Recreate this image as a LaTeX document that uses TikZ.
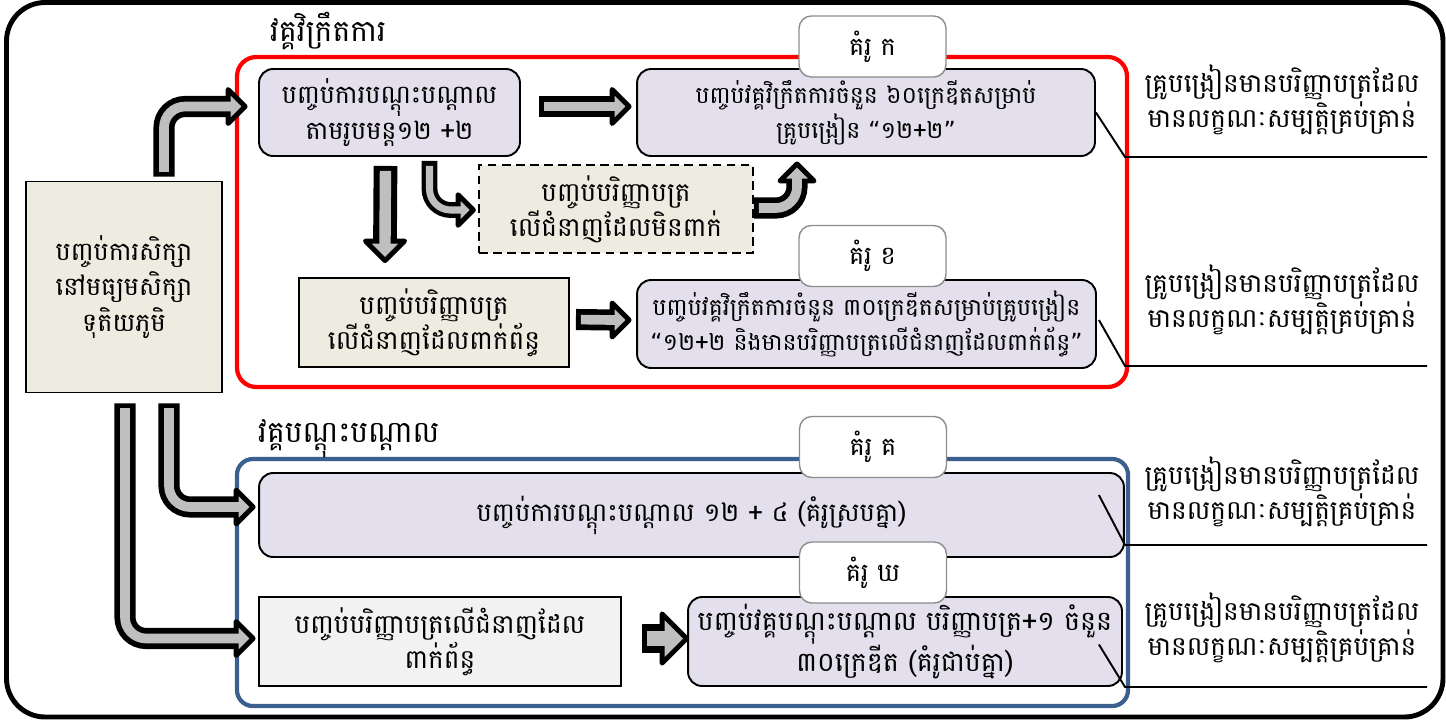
\documentclass[tikz,border=0pt]{standalone}
\usepackage{fontspec}
\setmainfont{Battambang}[Script=Khmer]
\newfontfamily\quotefont{DejaVu Sans}
\usetikzlibrary{calc}
\definecolor{lav}{HTML}{E4DFEC}
\definecolor{beige}{HTML}{EEECE1}
\definecolor{pale}{HTML}{F2F2F2}
\definecolor{framered}{HTML}{FF0000}
\definecolor{frameblue}{HTML}{3B5F8E}
\definecolor{arrowgray}{HTML}{BFBFBF}
\definecolor{taggray}{HTML}{8C8C8C}
\newcommand{\fs}[1]{\fontsize{#1}{20}\selectfont}
\newcommand{\qopen}{{\quotefont “}}
\newcommand{\qclose}{{\quotefont ”}}
\newcommand{\barrow}[4]{%
  \draw[shaftout=#1] #3;
  \pic[#4] {bhead};
  \draw[shaftin=#2] #3;
}
\begin{document}
\begin{tikzpicture}[x=0.02cm,y=-0.02cm,
    box/.style={draw,line width=1.1pt,align=center,inner sep=0pt,font=\fs{14.5}},
    roundbox/.style={box,rounded corners=8pt,fill=lav},
    plainbox/.style={box,fill=beige},
    tag/.style={draw=taggray,line width=0.8pt,fill=white,rounded corners=7pt,
      minimum width=2.94cm,minimum height=1.22cm,font=\fs{14.5}},
    note/.style={align=center,font=\fs{15}},
    heading/.style={anchor=west,font=\fs{17}},
    shaftout/.style={line width=#1,draw=black,rounded corners=12pt},
    shaftin/.style={line width=#1,draw=arrowgray,rounded corners=12pt,
      shorten <=2.8pt,shorten >=-3pt},
    bhead/.pic={\draw[line width=2.8pt,line join=round,fill=arrowgray]
      (0,-17) -- (17,0) -- (0,17) -- cycle;}]
  \useasboundingbox (0,0) rectangle (1446,720);
  \draw[line width=2.8pt,rounded corners=22pt] (6.5,2.5) rectangle (1443,717);

  % frames
  \draw[framered,line width=2.4pt,rounded corners=11pt] (237,57) rectangle (1127,387);
  \draw[frameblue,line width=2.4pt,rounded corners=9pt] (237,459) rectangle (1128,706);
  \node[heading] (t1) at (264,31) {វគ្គវិក្រឹតការ};
  \node[heading] (t2) at (252,439) {វគ្គបណ្ដុះបណ្ដាល};

  % boxes
  \node[plainbox,line width=0.9pt,minimum width=3.92cm,minimum height=4.22cm] (start) at (124,287)
    {បញ្ចប់ការសិក្សា\\នៅមធ្យមសិក្សា\\ទុតិយភូមិ};
  \node[roundbox,minimum width=5.22cm,minimum height=1.74cm] (A1) at (389.5,112.5)
    {បញ្ចប់ការបណ្ដុះបណ្ដាល\\តាមរូបមន្ត១២ +២};
  \node[roundbox,font=\fs{13.4},minimum width=9.16cm,minimum height=1.74cm] (A2) at (866,112.5)
    {បញ្ចប់វគ្គវិក្រឹតការចំនួន ៦០ក្រេឌីតសម្រាប់\\គ្រូបង្រៀន \qopen១២+២\qclose};
  \node[plainbox,dash pattern=on 5pt off 3pt,font=\fs{15},minimum width=5.48cm,minimum height=1.76cm] (dash) at (616,209)
    {បញ្ចប់បរិញ្ញាបត្រ\\លើជំនាញដែលមិនពាក់};
  \node[plainbox,font=\fs{15},minimum width=5.40cm,minimum height=1.78cm] (B1) at (434,322.5)
    {បញ្ចប់បរិញ្ញាបត្រ\\លើជំនាញដែលពាក់ព័ន្ធ};
  \node[roundbox,font=\fs{13.4},minimum width=9.18cm,minimum height=1.76cm] (B2) at (866.5,324)
    {បញ្ចប់វគ្គវិក្រឹតការចំនួន ៣០ក្រេឌីតសម្រាប់គ្រូបង្រៀន\\\qopen១២+២ និងមានបរិញ្ញាបត្រលើជំនាញដែលពាក់ព័ន្ធ\qclose};
  \node[roundbox,font=\fs{14.7},minimum width=17.30cm,minimum height=1.68cm] (C) at (691.5,515)
    {បញ្ចប់ការបណ្ដុះបណ្ដាល ១២ + ៤ (គំរូស្របគ្នា)};
  \node[box,fill=pale,font=\fs{15},minimum width=7.24cm,minimum height=1.78cm] (D1) at (440,641.5)
    {បញ្ចប់បរិញ្ញាបត្រលើជំនាញដែល\\ពាក់ព័ន្ធ};
  \node[roundbox,font=\fs{15.3},minimum width=8.68cm,minimum height=1.78cm] (D2) at (905,641.5)
    {បញ្ចប់វគ្គបណ្ដុះបណ្ដាល បរិញ្ញាបត្រ+១ ចំនួន\\៣០ក្រេឌីត (គំរូជាប់គ្នា)};

  \node[tag] (kA) at (872.5,46.5) {គំរូ ក};
  \node[tag] (kB) at (872.5,256) {គំរូ ខ};
  \node[tag] (kC) at (873,447) {គំរូ គ};
  \node[tag] (kD) at (873,572.5) {គំរូ ឃ};

  % results on the right
  \node[note] (r1) at (1282,100) {គ្រូបង្រៀនមានបរិញ្ញាបត្រដែល\\មានលក្ខណៈសម្បត្តិគ្រប់គ្រាន់};
  \node[note] (r2) at (1282,300) {គ្រូបង្រៀនមានបរិញ្ញាបត្រដែល\\មានលក្ខណៈសម្បត្តិគ្រប់គ្រាន់};
  \node[note] (r3) at (1282,492) {គ្រូបង្រៀនមានបរិញ្ញាបត្រដែល\\មានលក្ខណៈសម្បត្តិគ្រប់គ្រាន់};
  \node[note] (r4) at (1282,628) {គ្រូបង្រៀនមានបរិញ្ញាបត្រដែល\\មានលក្ខណៈសម្បត្តិគ្រប់គ្រាន់};
  \coordinate (u1) at (1125,157);
  \coordinate (u2) at (1125,366);
  \coordinate (u3) at (1125,545);
  \coordinate (u4) at (1125,687);
  \begin{scope}[line width=1.1pt]
    \draw (A2.east) -- (u1) -- (u1 -| 1427,0);
    \draw ($(B2.east)+(2,-4)$) -- (u2) -- (u2 -| 1427,0);
    \draw ($(C.east)+(-26,-20)$) -- (u3) -- (u3 -| 1427,0);
    \draw ($(D2.east)+(-24,3)$) -- (u4) -- (u4 -| 1427,0);
  \end{scope}

  % block arrows
  \barrow{12pt}{5.5pt}{($(start.north)+(40,-4)$) |- ($(A1.west)+(-30,-6)$)}
    {shift={($(A1.west)+(-30,-6)$)}}
  \barrow{12pt}{5.5pt}{($(A1.east)+(18,-6)$) -- ($(A2.west)+(-24,-6)$)}
    {shift={($(A2.west)+(-24,-6)$)}}
  \barrow{13.5pt}{6.5pt}{($(A1.south)+(-4,9)$) -- ($(B1.north)+(-49,-36)$)}
    {shift={($(B1.north)+(-49,-36)$)},rotate=-90,scale=1.15}
  \barrow{9pt}{4pt}{($(A1.south)+(40,4)$) |- ($(dash.west)+(-20,1)$)}
    {shift={($(dash.west)+(-20,1)$)},scale=0.9}
  \barrow{12pt}{5.5pt}{($(dash.east)+(0,-1)$) -| ($(A2.south)+(-69,24)$)}
    {shift={($(A2.south)+(-69,24)$)},rotate=90}
  \barrow{12pt}{5.5pt}{($(B1.east)+(6,-3)$) -- ($(B2.west)+(-24,-4)$)}
    {shift={($(B2.west)+(-24,-4)$)}}
  \barrow{12pt}{5.5pt}{($(start.south)+(45,10)$) |- ($(C.west)+(-22,-8)$)}
    {shift={($(C.west)+(-22,-8)$)}}
  \barrow{12pt}{5.5pt}{($(start.south)+(1,10)$) |- ($(D1.west)+(-22,-3)$)}
    {shift={($(D1.west)+(-22,-3)$)}}
  \barrow{16pt}{9pt}{($(D1.east)+(20,-3)$) -- ($(D2.west)+(-25,-3)$)}
    {shift={($(D2.west)+(-25,-3)$)},scale=1.45}
\end{tikzpicture}
\end{document}
